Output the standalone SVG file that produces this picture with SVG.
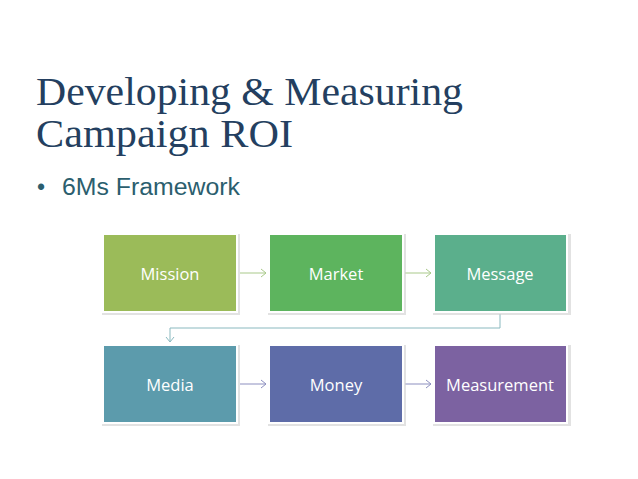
<svg xmlns="http://www.w3.org/2000/svg" width="638" height="479" viewBox="0 0 638 479">
<defs>
<style>
.title{font-family:"Liberation Serif","DejaVu Serif",serif;font-size:41px;fill:#243F60}
.bullet{font-family:"Liberation Sans",Arial,sans-serif;font-size:23px;fill:#2B5E6E}
.lbl{font-family:"Open Sans","Liberation Sans",sans-serif;font-size:16.5px;fill:#ffffff;text-anchor:middle;dominant-baseline:central}
.box{stroke:#ffffff;stroke-width:2}
.sh{fill:#cfcfcf;opacity:0.6}
.c1{fill:none;stroke:#A9C98A;stroke-width:1}
.c2{fill:none;stroke:#8AB9BF;stroke-width:1}
.c3{fill:none;stroke:#8C8FBF;stroke-width:1}
</style>
<marker id="a1" markerWidth="10" markerHeight="10" refX="8" refY="5" orient="auto" markerUnits="userSpaceOnUse"><path d="M3,1 L8,5 L3,9" fill="none" stroke="#A9C98A" stroke-width="1"/></marker>
<marker id="a2" markerWidth="10" markerHeight="10" refX="8" refY="5" orient="auto" markerUnits="userSpaceOnUse"><path d="M3,1 L8,5 L3,9" fill="none" stroke="#8AB9BF" stroke-width="1"/></marker>
<marker id="a3" markerWidth="10" markerHeight="10" refX="8" refY="5" orient="auto" markerUnits="userSpaceOnUse"><path d="M3,1 L8,5 L3,9" fill="none" stroke="#8C8FBF" stroke-width="1"/></marker>
</defs>
<rect width="638" height="479" fill="#ffffff"/>
<text class="title" x="36" y="105" textLength="427" lengthAdjust="spacingAndGlyphs">Developing &amp; Measuring</text>
<text class="title" x="36" y="147" textLength="257" lengthAdjust="spacingAndGlyphs">Campaign ROI</text>
<text class="bullet" x="37" y="195">•</text>
<text class="bullet" x="62" y="195" textLength="178" lengthAdjust="spacingAndGlyphs">6Ms Framework</text>
<g id="connectors">
<line class="c1" x1="240" y1="273" x2="266" y2="273" marker-end="url(#a1)"/>
<line class="c1" x1="405" y1="273" x2="431" y2="273" marker-end="url(#a1)"/>
<polyline class="c2" points="500,314 500,328 170,328 170,342" marker-end="url(#a2)"/>
<line class="c3" x1="240" y1="384" x2="266" y2="384" marker-end="url(#a3)"/>
<line class="c3" x1="405" y1="384" x2="431" y2="384" marker-end="url(#a3)"/>
</g>
<g id="mission"><rect class="sh" x="102" y="234" width="138" height="81"/><rect class="box" x="103" y="234" width="134" height="78" fill="#9BBB59"/><text class="lbl" x="170" y="273">Mission</text></g>
<g id="market"><rect class="sh" x="268" y="234" width="138" height="81"/><rect class="box" x="269" y="234" width="134" height="78" fill="#5DB45E"/><text class="lbl" x="336" y="273">Market</text></g>
<g id="message"><rect class="sh" x="433" y="234" width="138" height="81"/><rect class="box" x="434" y="234" width="133" height="78" fill="#5BAF8C"/><text class="lbl" x="500" y="273">Message</text></g>
<g id="media"><rect class="sh" x="102" y="345" width="138" height="81"/><rect class="box" x="103" y="345" width="134" height="78" fill="#5C9BAC"/><text class="lbl" x="170" y="384">Media</text></g>
<g id="money"><rect class="sh" x="268" y="345" width="138" height="81"/><rect class="box" x="269" y="345" width="134" height="78" fill="#5E6CA8"/><text class="lbl" x="336" y="384">Money</text></g>
<g id="measurement"><rect class="sh" x="433" y="345" width="138" height="81"/><rect class="box" x="434" y="345" width="133" height="78" fill="#7C62A1"/><text class="lbl" x="500" y="384">Measurement</text></g>
</svg>
